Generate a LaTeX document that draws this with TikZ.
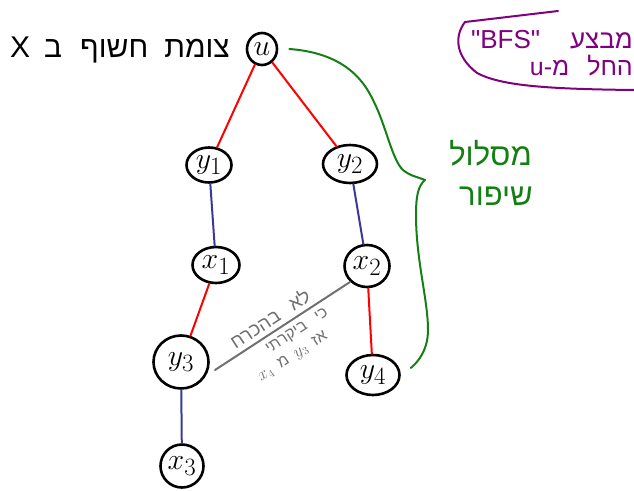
\documentclass[tikz,border=0pt]{standalone}
\usepackage{fontspec}
\usepackage{graphicx}
\newfontfamily\hebfont[Script=Hebrew]{Liberation Sans}
\usetikzlibrary{shapes.geometric}
\TeXXeTstate=1
\definecolor{freeedge}{RGB}{255,0,0}
\definecolor{matchedge}{RGB}{58,58,150}
\definecolor{pathgreen}{RGB}{20,128,20}
\definecolor{bfspurple}{RGB}{128,0,128}
\definecolor{notegray}{RGB}{112,112,112}
\newcommand{\vlabel}[1]{\scalebox{1.2}{$#1$}}
\begin{document}
\begin{tikzpicture}[x=1pt, y=-1pt, line cap=round, line join=round,
    main/.style = {draw, ellipse, line width=2.6pt, inner sep=0pt, font=\fontsize{24.88}{28}\selectfont},
    free/.style = {draw=freeedge, line width=2pt},
    match/.style = {draw=matchedge, line width=2pt},
    heb/.style = {font=\hebfont\fontsize{30}{34}\selectfont, inner sep=0pt},
    note/.style = {sloped, text=notegray, font=\hebfont\fontsize{16}{18}\selectfont, inner sep=0pt}]
    \useasboundingbox (0,0) rectangle (634,490);
    \node[main, minimum width=30, minimum height=32] (u) at (262,49) {\vlabel{u}};
    \node[main, minimum width=45, minimum height=35] (y1) at (209,165) {\vlabel{y_1}};
    \node[main, minimum width=54, minimum height=38] (y2) at (350,164) {\vlabel{y_2}};
    \node[main, minimum width=47, minimum height=36] (x1) at (216,265) {\vlabel{x_1}};
    \node[main, minimum width=45, minimum height=42] (x2) at (367,266) {\vlabel{x_2}};
    \node[main, minimum width=55, minimum height=53] (y3) at (181,362) {\vlabel{y_3}};
    \node[main, minimum width=53, minimum height=40] (y4) at (373,375) {\vlabel{y_4}};
    \node[main, minimum width=43, minimum height=43] (x3) at (182,466) {\vlabel{x_3}};
    \draw[free] (u) -- (y1);
    \draw[free] (u) -- (y2);
    \draw[match] (y1) -- (x1);
    \draw[match] (y2) -- (x2);
    \draw[free] (x1) -- (y3);
    \draw[free] (x2) -- (y4);
    \draw[match] (y3) -- (x3);
    \node[heb, anchor=base east] (title) at (230,57) {\beginR צומת\hspace{16pt}חשוף\hspace{18pt}ב\hspace{14pt}X\endR};
    \draw[pathgreen, line width=2pt] ([xshift=11pt]u.east) .. controls (330,52) and (358,68) .. (373,100)
        .. controls (386,125) and (392,160) .. (403,170) .. controls (410,176) and (418,177) .. (425,180)
        .. controls (418,186) and (416,196) .. (416,215) .. controls (416,260) and (428,300) .. (428,330)
        .. controls (428,350) and (418,362) .. ([xshift=10pt,yshift=7pt]y4.east);
    \node[heb, text=pathgreen, font=\hebfont\fontsize{31}{34}\selectfont, anchor=base east] (path1) at (532,165) {\beginR מסלול\endR};
    \node[heb, text=pathgreen, font=\hebfont\fontsize{31}{34}\selectfont, anchor=base east] (path2) at (533,205) {\beginR שיפור\endR};
    \draw[bfspurple, line width=2pt] (558,11) -- (465,22) .. controls (455,35) and (454,55) .. (477,73)
        .. controls (500,85) and (540,89) .. (634,90);
    \node[heb, text=bfspurple, font=\hebfont\fontsize{26}{28}\selectfont, anchor=base east] (bfs1) at (633,48) {\beginR מבצע\hspace{30pt}\beginL"BFS"\endL\endR};
    \node[heb, text=bfspurple, font=\hebfont\fontsize{25}{28}\selectfont, anchor=base east] (bfs2) at (633,75) {\beginR החל\hspace{18pt}מ-u\endR};
    \coordinate (g1) at (215,370);
    \coordinate (g2) at (350,282);
    \draw[notegray, line width=2pt] (g1) -- (g2);
    \path (g1) -- (g2)
        node[note, pos=0.46, above=5pt, font=\hebfont\fontsize{19}{21}\selectfont] (noteup) {\beginR לא\hspace{14pt}בהכרח\endR}
        node[note, pos=0.56, below=6pt] (notemid) {\beginR כי\hspace{12pt}ביקרתי\endR}
        node[note, pos=0.45, below=25pt] (notelow) {\beginR אז\hspace{8pt}\beginL$y_3$\endL\hspace{8pt}מ\hspace{8pt}\beginL$x_4$\endL\endR};
\end{tikzpicture}
\end{document}
